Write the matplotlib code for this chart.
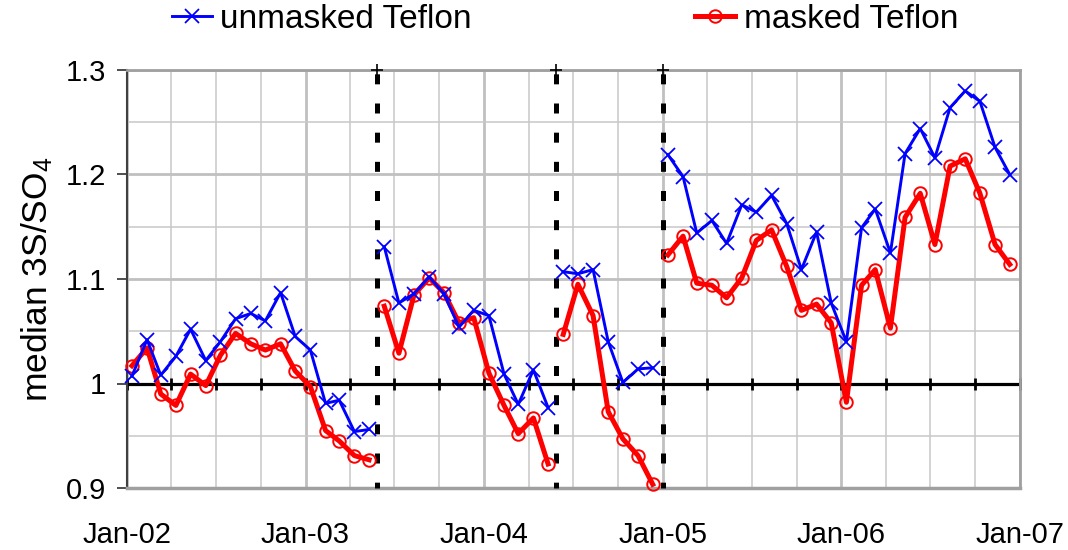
import matplotlib
matplotlib.use("Agg")
import matplotlib.pyplot as plt
import matplotlib.dates as mdates
import numpy as np
import pandas as pd
from matplotlib.ticker import MultipleLocator, FuncFormatter

plt.rcParams['font.family'] = ['Liberation Sans', 'DejaVu Sans']
plt.rcParams['mathtext.default'] = 'regular'
plt.rcParams['lines.scale_dashes'] = False

# monthly data, Jan 2002 - Dec 2006
dates = pd.date_range("2002-01-01", periods=60, freq="MS") + pd.Timedelta(days=10)

unmasked = [
    # Jan 2002 - May 2003
    1.007, 1.042, 1.008, 1.026, 1.052, 1.022, 1.040, 1.062, 1.067, 1.060, 1.087, 1.045,
    1.032, 0.981, 0.984, 0.954, 0.956,
    # Jun 2003 - May 2004
    1.131, 1.077, 1.086, 1.102, 1.086, 1.054, 1.070, 1.065, 1.009, 0.980, 1.013, 0.977,
    # Jun 2004 - Dec 2004
    1.107, 1.105, 1.109, 1.040, 1.001, 1.014, 1.015,
    # Jan 2005 - Dec 2006
    1.219, 1.198, 1.144, 1.156, 1.134, 1.171, 1.164, 1.180, 1.153, 1.109, 1.145, 1.077,
    1.040, 1.149, 1.167, 1.125, 1.220, 1.244, 1.216, 1.264, 1.280, 1.270, 1.226, 1.200,
]

masked = [
    1.017, 1.034, 0.990, 0.979, 1.009, 0.998, 1.027, 1.048, 1.038, 1.032, 1.038, 1.012,
    0.997, 0.955, 0.945, 0.931, 0.927,
    1.074, 1.029, 1.085, 1.101, 1.087, 1.058, 1.063, 1.010, 0.979, 0.952, 0.967, 0.923,
    1.047, 1.095, 1.065, 0.973, 0.947, 0.931, 0.9035,
    1.123, 1.141, 1.096, 1.094, 1.082, 1.101, 1.137, 1.147, 1.112, 1.070, 1.076, 1.058,
    0.982, 1.094, 1.109, 1.053, 1.159, 1.182, 1.133, 1.208, 1.215, 1.182, 1.133, 1.114,
]

# segment lengths (breaks at the dashed lines)
segments = [17, 12, 7, 24]
break_dates = pd.to_datetime(["2003-05-28", "2004-05-28", "2005-01-01"])

series_labels = ["unmasked Teflon", "masked Teflon"]
year_ticks = pd.date_range("2002-01-01", "2007-01-01", freq="YS")
quarter_ticks = pd.date_range("2002-01-01", "2007-01-01", freq="QS")

W, H = 1068, 550
fig = plt.figure(figsize=(W / 100, H / 100), dpi=100)
ax = fig.add_axes([127 / W, 1 - 488 / H, (1020 - 127) / W, (488 - 70) / H])

ax.set_xlim(year_ticks[0], year_ticks[-1])
ax.set_ylim(0.9, 1.3)

# grid
ax.xaxis.set_major_locator(mdates.YearLocator())
ax.xaxis.set_minor_locator(mdates.MonthLocator(bymonth=[1, 4, 7, 10]))
ax.xaxis.set_major_formatter(mdates.DateFormatter("%b-%y"))
ax.yaxis.set_major_locator(MultipleLocator(0.1))
ax.yaxis.set_minor_locator(MultipleLocator(0.05))
ax.yaxis.set_major_formatter(FuncFormatter(lambda v, p: f"{v:g}"))
ax.grid(which="major", color="#c0c0c0", lw=2.0, zorder=0)
ax.grid(which="minor", color="#c8c8c8", lw=1.1, zorder=0)
ax.set_axisbelow(True)

ax.tick_params(axis="x", which="both", length=0, labelsize=21, pad=24)
ax.tick_params(axis="y", which="major", length=7, width=1.3, color="#404040",
               labelsize=21, pad=8, direction="out")
ax.tick_params(axis="y", which="minor", length=0)

for s in ["top", "right"]:
    ax.spines[s].set_color("#a0a0a0")
    ax.spines[s].set_linewidth(2)
ax.spines["bottom"].set_color("#a0a0a0")
ax.spines["bottom"].set_linewidth(2.5)
ax.spines["left"].set_color("#404040")
ax.spines["left"].set_linewidth(1.5)

# reference line at 1.0 with quarter ticks
ax.axhline(1.0, color="black", lw=2.3, zorder=2)
ax.plot(quarter_ticks, [1.0] * len(quarter_ticks), ls="none", marker="|",
        ms=9, mew=2.0, color="black", zorder=2, clip_on=False)

# dashed break lines
for d in break_dates:
    ax.plot([d, d], [0.9, 1.3], color="black", lw=3.6, ls=(3, (7.2, 13.8)),
            zorder=3, clip_on=False, solid_capstyle="butt", dash_capstyle="butt")
    ax.plot([d], [1.3], marker="+", ms=8, mew=1.2, color="black",
            zorder=3, clip_on=False)

# data
idx = np.cumsum([0] + segments)
for k in range(len(segments)):
    sl = slice(idx[k], idx[k + 1])
    ax.plot(dates[sl], unmasked[sl], color="#0000ff", lw=2.1, marker="x",
            ms=10, mew=1.3, zorder=5, clip_on=False,
            label=series_labels[0] if k == 0 else None)
    ax.plot(dates[sl], masked[sl], color="#ff0000", lw=3.6, marker="o",
            ms=9, mew=1.4, mfc="none", zorder=4, clip_on=False,
            label=series_labels[1] if k == 0 else None)

ax.set_ylabel("median 3S/SO$_4$", fontsize=25.5)
ax.yaxis.set_label_coords(-0.081, 0.5)

handles, labels = ax.get_legend_handles_labels()
fig.legend(handles, labels, loc="center left",
           bbox_to_anchor=(172 / W, 1 - 19 / H), ncol=2, frameon=False,
           fontsize=24, handlelength=1.2, handletextpad=0.25,
           columnspacing=6.7, borderpad=0, borderaxespad=0)

fig.savefig("out.png", dpi=100)
